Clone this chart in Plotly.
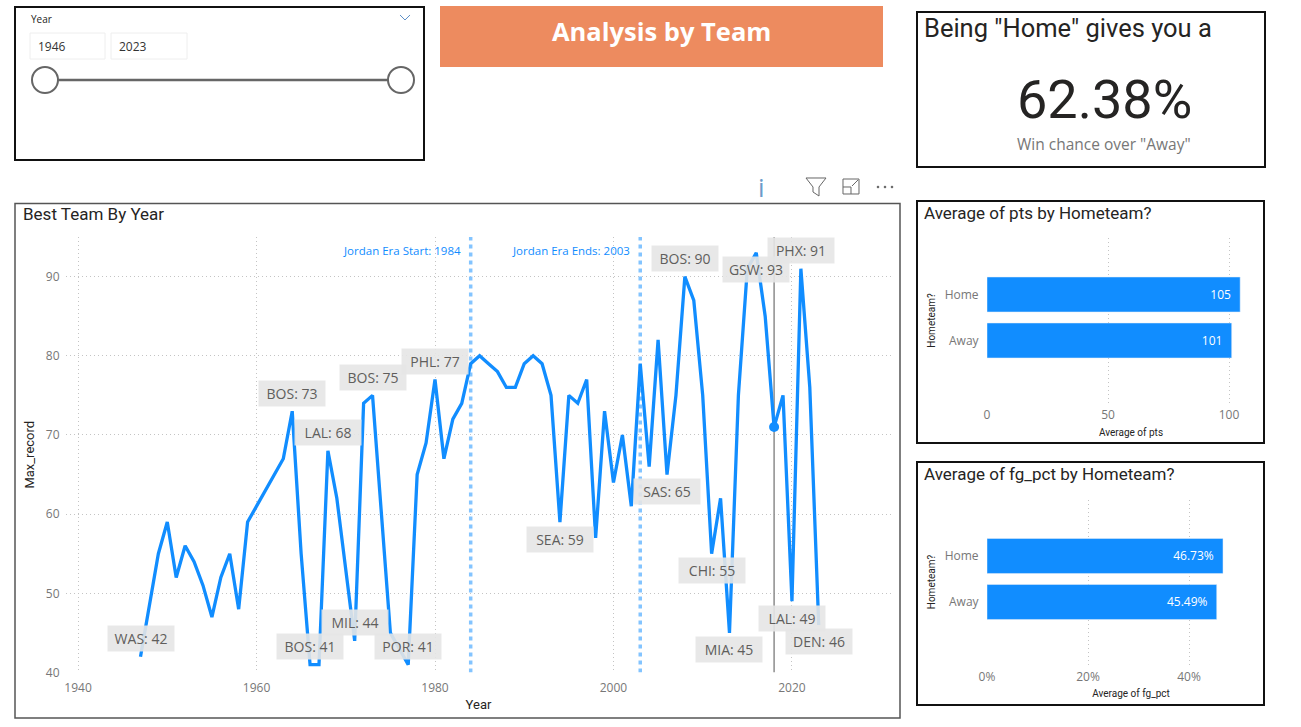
import plotly.graph_objects as go

# ---------- data ----------
years = [1947, 1949, 1950, 1951, 1952, 1953, 1954, 1955, 1956, 1957, 1958, 1959, 1963, 1964, 1965,
         1966, 1967, 1968, 1969, 1970, 1971, 1972, 1973, 1974, 1975, 1976, 1977, 1978, 1979, 1980,
         1981, 1982, 1983, 1984, 1985, 1986, 1987, 1988, 1989, 1990, 1991, 1992, 1993, 1994, 1995,
         1996, 1997, 1998, 1999, 2000, 2001, 2002, 2003, 2004, 2005, 2006, 2007, 2008, 2009, 2010,
         2011, 2012, 2013, 2014, 2015, 2016, 2017, 2018, 2019, 2020, 2021, 2022, 2023]
max_record = [42, 55, 59, 52, 56, 54, 51, 47, 52, 55, 48, 59, 67, 73, 55,
              41, 41, 68, 62, 53, 44, 74, 75, 60, 45, 43, 41, 65, 69, 77,
              67, 72, 74, 79, 80, 79, 78, 76, 76, 79, 80, 79, 75, 59, 75,
              74, 77, 57, 73, 64, 70, 61, 79, 66, 82, 65, 75, 90, 87, 75,
              55, 62, 45, 75, 91, 93, 85, 71, 75, 49, 91, 76, 46]
label_years = [1947, 1964, 1966, 1968, 1971, 1973, 1977, 1980, 1994, 2006, 2008, 2011, 2013, 2016, 2020, 2021, 2023]
label_teams = ["WAS", "BOS", "BOS", "LAL", "MIL", "BOS", "POR", "PHL", "SEA", "SAS", "BOS", "CHI", "MIA", "GSW", "LAL", "PHX", "DEN"]
label_above = [True, True, True, True, True, True, True, True, False, False, True, False, False, False, False, True, False]
era_years = [1984, 2003]
era_labels = ["Jordan Era Start: 1984", "Jordan Era Ends: 2003"]
focus_year = [2018]
focus_value = [71]
home_away = ["Away", "Home"]
avg_pts = [101.1, 104.6]
avg_fg_pct = [0.4549, 0.4673]

# ---------- styling ----------
W, H = 1301, 727
BLUE = "#118DFF"
DIN = "Roboto"
UI = "Open Sans"
GRID = "#c4c4c4"
TICK = "#777777"
DOTS = "1px,3px"


def X(p):
    return p / W


def Y(p):
    return 1 - p / H


shapes, annots = [], []


def box(x0, y0, x1, y1, line="#111111", width=2, fill="rgba(0,0,0,0)", layer="below"):
    shapes.append(dict(type="rect", xref="paper", yref="paper", x0=X(x0), x1=X(x1), y0=Y(y0), y1=Y(y1),
                       line=dict(color=line, width=width), fillcolor=fill, layer=layer))


def text(x, y, s, size=12, color="#252423", family=DIN, anchor="left", **kw):
    annots.append(dict(xref="paper", yref="paper", x=X(x), y=Y(y), text=s, showarrow=False, xanchor=anchor,
                       yanchor="middle", font=dict(size=size, color=color, family=family), borderpad=0, **kw))


def path(points, color, width=1, close=False, fill="rgba(0,0,0,0)"):
    d = "M" + " L".join(f"{X(a):.5f},{Y(b):.5f}" for a, b in points) + (" Z" if close else "")
    shapes.append(dict(type="path", xref="paper", yref="paper", path=d, line=dict(color=color, width=width),
                       fillcolor=fill, layer="above"))


def circle(cx, cy, r, color, width=2, fill="white"):
    shapes.append(dict(type="circle", xref="paper", yref="paper", x0=X(cx - r), x1=X(cx + r), y0=Y(cy + r), y1=Y(cy - r),
                       line=dict(color=color, width=width), fillcolor=fill, layer="above"))


# ---------- panels ----------
box(15, 7, 424, 160)
box(15, 203.5, 900, 718, line="#555555", width=1.5)
box(917, 12, 1265, 167)
box(917, 201, 1264, 443)
box(917, 462, 1264, 705)
box(440, 6, 883, 67, line="#ED8B5F", width=0, fill="#ED8B5F")

# slicer
text(30, 19, "Year", size=10, family=UI)
path([(400, 15), (405, 20), (410, 15)], "#5B8FC7", 1)
box(30, 33, 105, 59, line="#EEEEEE", width=1)
box(111, 33, 187, 59, line="#EEEEEE", width=1)
text(37, 46.5, "1946", size=12, family=UI, color="#333333")
text(118, 46.5, "2023", size=12, family=UI, color="#333333")
path([(45, 80), (401, 80)], "#666666", 2.5)
circle(45, 80, 13, "#666666")
circle(401, 80, 13, "#666666")

# header and KPI
text(661, 31, "<b>Analysis by Team</b>", size=25.5, color="white", family=UI, anchor="center")
text(923, 28, 'Being "Home" gives you a', size=25.5)
text(1104, 100, "62.38%", size=54, anchor="center")
text(1104, 144, 'Win chance over "Away"', size=15.5, color="#777777", family=UI, anchor="center")

# visual header icons
text(761, 187, "i", size=26, color="#6C9BC9", family=UI, anchor="center")
path([(806, 178), (826, 178), (819, 187), (819, 196), (813, 192), (813, 187)], "#666666", 1, close=True)
path([(843, 187), (843, 179), (859, 179), (859, 194), (851, 194)], "#666666", 1)
path([(843, 187), (851, 187), (851, 194), (843, 194)], "#666666", 1, close=True)
path([(852, 186), (858, 180)], "#666666", 1)
for dot_x in (878, 885, 892):
    circle(dot_x, 187, 1, "#555555", width=0.5, fill="#555555")

# panel titles
text(22, 214, "Best Team By Year", size=17)
text(923, 213, "Average of pts by Hometeam?", size=17)
text(923, 474, "Average of fg_pct by Hometeam?", size=17)

# ---------- figure ----------
fig = go.Figure()

for yr in era_years:
    fig.add_trace(go.Scatter(x=[yr, yr], y=[40, 95], mode="lines", xaxis="x", yaxis="y", hoverinfo="skip",
                             line=dict(color="#83C4FF", width=3.5, dash="4px,4px")))
fig.add_trace(go.Scatter(x=[focus_year[0], focus_year[0]], y=[40, 95], mode="lines", xaxis="x", yaxis="y",
                         hoverinfo="skip", line=dict(color="#8c8c8c", width=1.5)))
fig.add_trace(go.Scatter(x=years, y=max_record, mode="lines", xaxis="x", yaxis="y",
                         line=dict(color=BLUE, width=3.3)))
fig.add_trace(go.Scatter(x=focus_year, y=focus_value, mode="markers", xaxis="x", yaxis="y",
                         marker=dict(color=BLUE, size=10)))

for yr, team, above in zip(label_years, label_teams, label_above):
    val = max_record[years.index(yr)]
    annots.append(dict(xref="x", yref="y", x=yr, y=val, text=f"{team}: {val}", showarrow=False, width=60,
                       xanchor="center", yanchor="middle", yshift=18 if above else -17, align="center",
                       bgcolor="rgba(230,230,230,0.9)", borderpad=3,
                       font=dict(size=14, color="#605E5C", family=UI)))

era_right_px = [462, 631]
for px, lab in zip(era_right_px, era_labels):
    text(px, 250.5, lab, size=11.5, color=BLUE, family=UI, anchor="right")

for vals, xa, ya, fmt in [(avg_pts, "x2", "y2", ".0f"), (avg_fg_pct, "x3", "y3", ".2%")]:
    fig.add_trace(go.Bar(x=vals, y=home_away, orientation="h", xaxis=xa, yaxis=ya, marker=dict(color=BLUE),
                         texttemplate="%{x:" + fmt + "}\u00a0\u00a0", textposition="inside", insidetextanchor="end",
                         textangle=0, textfont=dict(color="white", size=12, family=UI), width=0.76))

axis_font = dict(size=12, color=TICK, family=UI)


def xaxis(dom, rng, title, tsize, dtick, tformat=None, standoff=6):
    return dict(domain=[X(dom[0]), X(dom[1])], range=rng, dtick=dtick, tick0=0, tickformat=tformat,
                showgrid=True, gridcolor=GRID, griddash=DOTS, gridwidth=1, zeroline=False, showline=False,
                ticks="outside", ticklen=1, tickcolor="rgba(0,0,0,0)", tickfont=axis_font,
                title=dict(text=title, font=dict(size=tsize, color="#252423", family=DIN), standoff=standoff))


def bar_y(top, bottom, anchor):
    return dict(domain=[Y(bottom), Y(top)], range=[-1.359, 2.228], anchor=anchor, type="category",
                categoryorder="array", categoryarray=home_away, showgrid=False, zeroline=False, showline=False,
                ticks="outside", ticklen=5, tickcolor="rgba(0,0,0,0)", tickfont=axis_font,
                title=dict(text="Hometeam?", font=dict(size=10, color="#252423", family=DIN), standoff=7))


fig.update_layout(
    width=W, height=H, margin=dict(l=0, r=0, t=0, b=0, autoexpand=False), showlegend=False, bargap=0.24,
    paper_bgcolor="white", plot_bgcolor="rgba(0,0,0,0)", shapes=shapes, annotations=annots,
    xaxis=dict(domain=[X(66), X(891)], range=[1938.65, 2031.1], dtick=20, tick0=1940, showgrid=True, gridcolor=GRID,
               griddash=DOTS, zeroline=False, showline=False, tickfont=axis_font, ticks="outside", ticklen=4,
               tickcolor="rgba(0,0,0,0)",
               title=dict(text="Year", font=dict(size=13, color="#252423", family=DIN), standoff=4)),
    yaxis=dict(domain=[Y(672.5), Y(237)], range=[40, 95], dtick=10, tick0=40, showgrid=True, gridcolor=GRID,
               griddash=DOTS, zeroline=False, showline=False, tickfont=axis_font, ticks="outside", ticklen=3,
               tickcolor="rgba(0,0,0,0)", title=dict(text="Max_record", font=dict(size=13, color="#252423", family=DIN), standoff=8)),
    xaxis2=xaxis((987, 1275), [0, 119], "Average of pts", 10, 50),
    yaxis2=bar_y(238, 403, "x2"),
    xaxis3=xaxis((987, 1275), [0, 0.5703], "Average of fg_pct", 10, 0.2, ".0%"),
    yaxis3=bar_y(499.5, 664.5, "x3"),
)
fig.layout.xaxis2.anchor = "y2"
fig.layout.xaxis3.anchor = "y3"

POST = """
var gd = document.getElementById('{plot_id}');
document.body.style.margin = '0';
document.body.style.overflow = 'hidden';
gd.style.position = 'fixed';
gd.style.left = '0';
gd.style.top = '0';
"""
fig.write_html("out.html", post_script=POST, config={"displayModeBar": False})
